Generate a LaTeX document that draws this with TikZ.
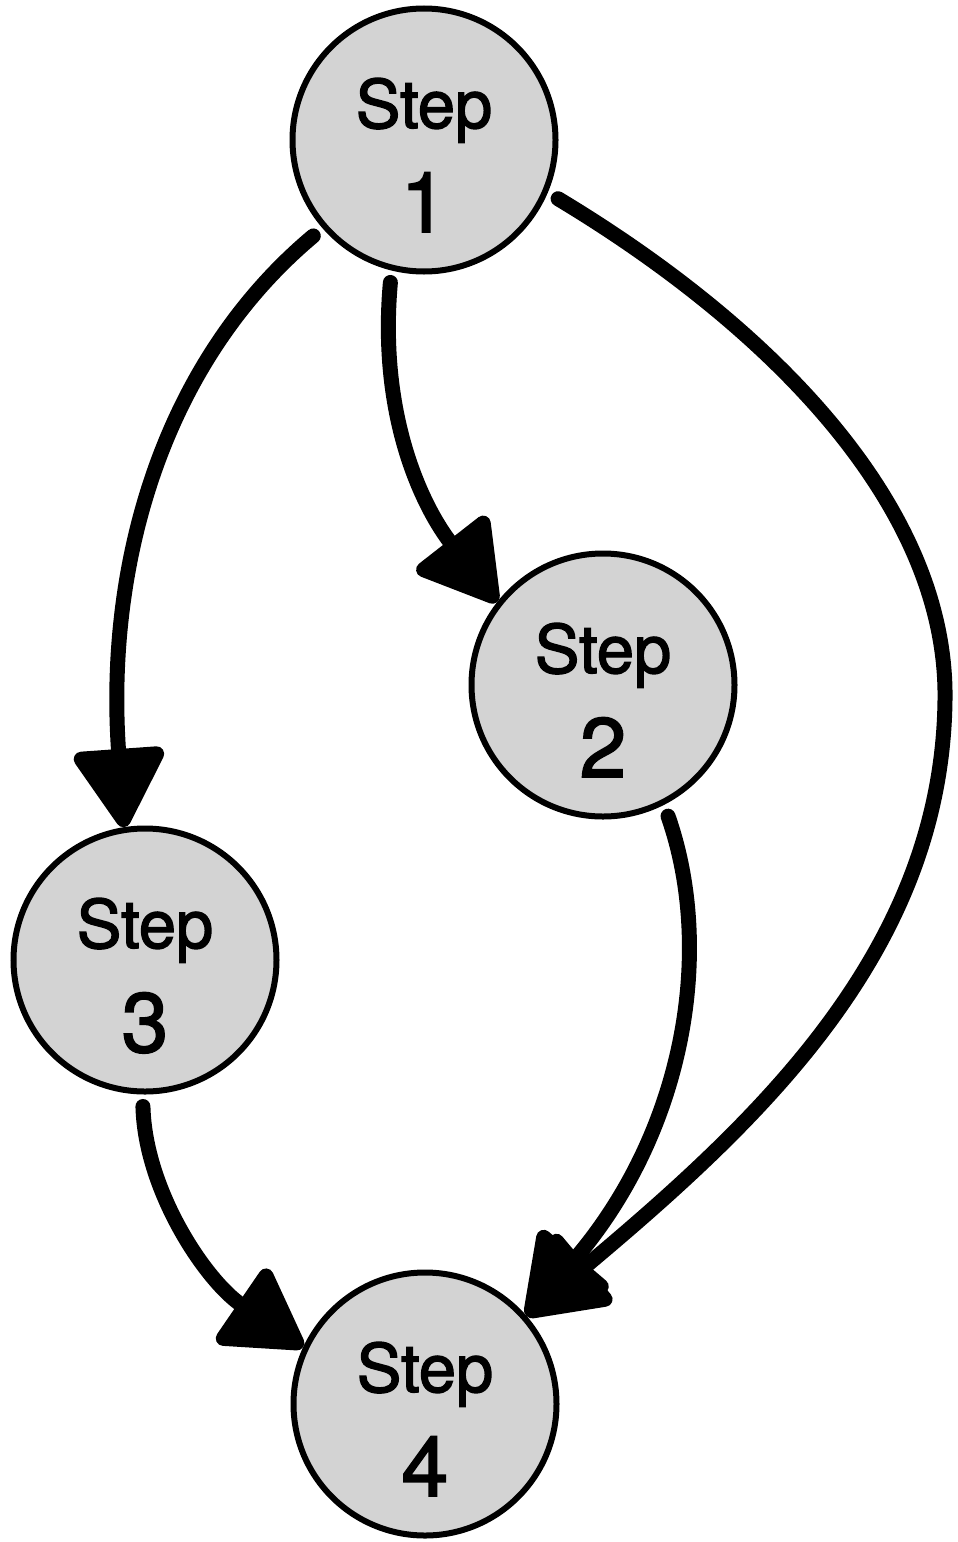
\documentclass[tikz,border=0pt]{standalone}
\usepackage{fontspec}
\setmainfont{TeX Gyre Heros}
\newfontfamily\stepfont{TeX Gyre Heros}[FakeBold=2]
\usetikzlibrary{arrows.meta}
\definecolor{nodegray}{RGB}{211,211,211}
\begin{document}
\begin{tikzpicture}[x=0.5pt,y=-0.5pt,
  stepnode/.style={circle, draw=black, line width=3pt, fill=nodegray, minimum size=131.5pt, inner sep=0pt},
  steplabel/.style={anchor=base, inner sep=0pt, font=\stepfont\fontsize{33.5}{36}\selectfont},
  stepnum/.style={anchor=base, inner sep=0pt, font=\stepfont\fontsize{42}{46}\selectfont},
  flow/.style={line width=7.5pt, line cap=round, -{Triangle[length=43pt,width=49pt,round]}, shorten <=6pt}]
\useasboundingbox (0,0) rectangle (958,1542);
\node[stepnode] (s1) at (424,140) {};
\node[stepnode] (s2) at (603,685) {};
\node[stepnode] (s3) at (145,960) {};
\node[stepnode] (s4) at (425,1404) {};
\foreach \n/\d in {s1/1,s2/2,s3/3,s4/4}{
  \node[steplabel] (\n-t) at ([yshift=6pt]\n.center) {Step};
  \node[stepnum] (\n-d) at ([yshift=-46pt]\n.center) {\d};
}
\draw[flow] (s1.-104) .. controls (378,420) and (425,510) .. (s2.142);
\draw[flow] (s1.-139) .. controls (165,360) and (105,560) .. (s3.99);
\draw[flow] (s1.-23) .. controls (760,320) and (948,500) .. (945,700) .. controls (942,950) and (760,1120) .. (s4.41);
\draw[flow] (s2.-63) .. controls (715,950) and (685,1130) .. (s4.41);
\draw[flow] (s3.-91) .. controls (145,1190) and (205,1280) .. (s4.155);
\end{tikzpicture}
\end{document}
